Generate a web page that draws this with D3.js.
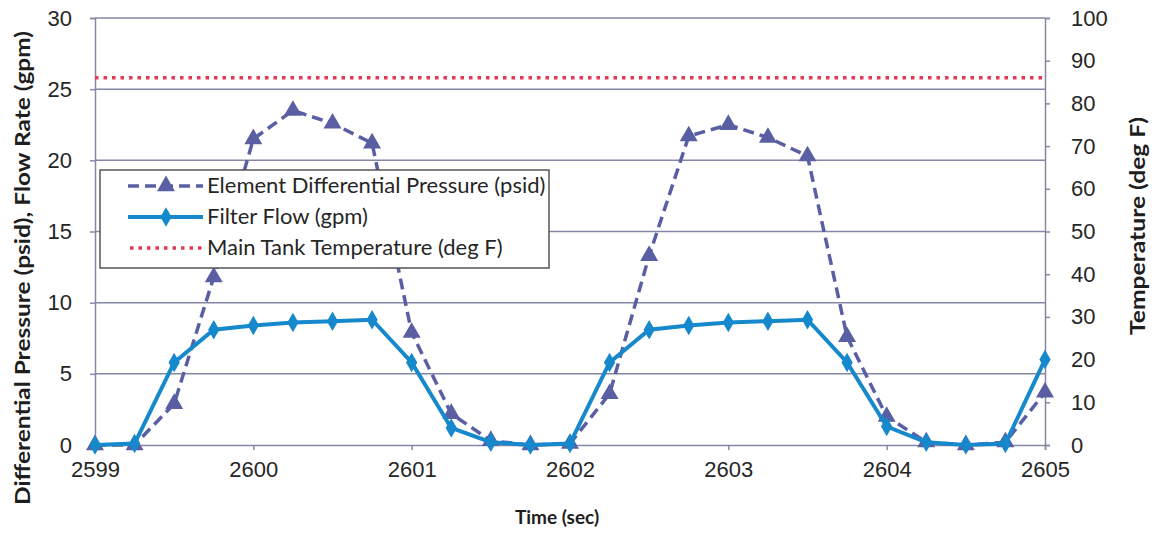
<!DOCTYPE html>
<html>
<head>
<meta charset="utf-8">
<script src="https://cdn.jsdelivr.net/npm/d3@7"></script>
<style>
  body { margin: 0; background: #fff; }
  svg { font-family: Lato, "Open Sans", sans-serif; }
</style>
</head>
<body>
<svg width="1155" height="534"></svg>
<script>
// time stamps every 0.25 s
const times = [2599, 2599.25, 2599.5, 2599.75, 2600, 2600.25, 2600.5, 2600.75,
  2601, 2601.25, 2601.5, 2601.75, 2602, 2602.25, 2602.5, 2602.75,
  2603, 2603.25, 2603.5, 2603.75, 2604, 2604.25, 2604.5, 2604.75, 2605];
const pressure = [0, 0, 2.9, 11.8, 21.5, 23.5, 22.6, 21.2,
  7.9, 2.2, 0.3, 0, 0.1, 3.6, 13.3, 21.7,
  22.5, 21.6, 20.3, 7.6, 2.0, 0.2, 0, 0.2, 3.7];
const flow = [0, 0.1, 5.8, 8.1, 8.4, 8.6, 8.7, 8.8,
  5.8, 1.2, 0.2, 0, 0.1, 5.8, 8.1, 8.4,
  8.6, 8.7, 8.8, 5.8, 1.3, 0.2, 0, 0.1, 6.0];
const tankTemp = [86, 86];
const xTicks = [2599, 2600, 2601, 2602, 2603, 2604, 2605];
const leftTicks = [0, 5, 10, 15, 20, 25, 30];
const rightTicks = [0, 10, 20, 30, 40, 50, 60, 70, 80, 90, 100];
const legendNames = ["Element Differential Pressure (psid)", "Filter Flow (gpm)", "Main Tank Temperature (deg F)"];

const pressColor = "#5a5fa3", flowColor = "#1689cc", tempColor = "#e23a55", gridColor = "#8587a6";
const textColor = "#262626";

const margin = {top: 18, right: 110, bottom: 89, left: 95};
const svg = d3.select("svg");
const W = 1155 - margin.left - margin.right, H = 534 - margin.top - margin.bottom;
const g = svg.append("g").attr("transform", `translate(${margin.left},${margin.top})`);

const x = d3.scaleLinear().domain([2599, 2605]).range([0, W]);
const y = d3.scaleLinear().domain([0, 30]).range([H, 0]);
const y2 = d3.scaleLinear().domain([0, 100]).range([H, 0]);

// gridlines
g.selectAll(".grid").data(leftTicks.filter(d => d > 0)).enter().append("line")
  .attr("x1", 0).attr("x2", W)
  .attr("y1", d => y(d)).attr("y2", d => y(d))
  .attr("stroke", gridColor).attr("stroke-width", 1.5);

// axes
const xAxis = g.append("g").attr("transform", `translate(0,${H})`)
  .call(d3.axisBottom(x).tickValues(xTicks).tickFormat(d3.format("d")).tickSize(5).tickPadding(11));
const yAxis = g.append("g").call(d3.axisLeft(y).tickValues(leftTicks).tickSize(5).tickPadding(18));
const yAxis2 = g.append("g").attr("transform", `translate(${W},0)`)
  .call(d3.axisRight(y2).tickValues(rightTicks).tickSize(5).tickPadding(21));
[xAxis, yAxis, yAxis2].forEach(a => {
  a.selectAll("path, line").attr("stroke", gridColor).attr("stroke-width", 1.5);
  a.selectAll("text").attr("font-size", "22px").attr("fill", textColor);
});

// temperature
g.append("path").datum(tankTemp)
  .attr("d", d3.line().x((d, i) => x(i === 0 ? 2599 : 2605)).y(d => y2(d)))
  .attr("fill", "none").attr("stroke", tempColor).attr("stroke-width", 3.5)
  .attr("stroke-dasharray", "3.5,5");

// pressure
const line = d3.line().x((d, i) => x(times[i])).y(d => y(d));
g.append("path").datum(pressure).attr("d", line)
  .attr("fill", "none").attr("stroke", pressColor).attr("stroke-width", 3.5)
  .attr("stroke-dasharray", "11,6");
const tri = d3.symbol().type(d3.symbolTriangle).size(140);
g.selectAll(".tri").data(pressure).enter().append("path")
  .attr("d", tri).attr("fill", pressColor)
  .attr("transform", (d, i) => `translate(${x(times[i])},${y(d)})`);

// flow
g.append("path").datum(flow).attr("d", line)
  .attr("fill", "none").attr("stroke", flowColor).attr("stroke-width", 4);
const dia = d3.symbol().type(d3.symbolDiamond).size(110);
g.selectAll(".dia").data(flow).enter().append("path")
  .attr("d", dia).attr("fill", flowColor)
  .attr("transform", (d, i) => `translate(${x(times[i])},${y(d)})`);

// legend
const lg = svg.append("g").attr("transform", "translate(100,170)");
lg.append("rect").attr("width", 449).attr("height", 98)
  .attr("fill", "#fff").attr("stroke", "#555").attr("stroke-width", 1.5);
legendNames.forEach((name, i) => {
  const ly = 16 + i * 31;
  const row = lg.append("g").attr("transform", `translate(0,${ly})`);
  if (i === 0) {
    row.append("line").attr("x1", 28).attr("x2", 103).attr("stroke", pressColor)
      .attr("stroke-width", 3.5).attr("stroke-dasharray", "11,6");
    row.append("path").attr("d", tri).attr("fill", pressColor).attr("transform", "translate(66,0)");
  } else if (i === 1) {
    row.append("line").attr("x1", 28).attr("x2", 103).attr("stroke", flowColor).attr("stroke-width", 4);
    row.append("path").attr("d", dia).attr("fill", flowColor).attr("transform", "translate(66,0)");
  } else {
    row.append("line").attr("x1", 30).attr("x2", 103).attr("stroke", tempColor)
      .attr("stroke-width", 3.5).attr("stroke-dasharray", "3.5,5");
  }
  row.append("text").attr("x", 107).attr("y", 7).attr("font-size", "22px")
    .attr("fill", textColor).text(name);
});

// axis titles
svg.append("text").attr("x", 557).attr("y", 524).attr("text-anchor", "middle")
  .attr("font-size", "19px").attr("font-weight", "bold").attr("fill", "#1e1e1e").text("Time (sec)");
svg.append("text").attr("transform", "translate(30,268) rotate(-90)").attr("text-anchor", "middle")
  .attr("font-size", "21px").attr("font-weight", "bold").attr("fill", "#1e1e1e")
  .attr("textLength", 474).attr("lengthAdjust", "spacingAndGlyphs")
  .text("Differential Pressure (psid), Flow Rate (gpm)");
svg.append("text").attr("transform", "translate(1145,226) rotate(-90)").attr("text-anchor", "middle")
  .attr("font-size", "21px").attr("font-weight", "bold").attr("fill", "#1e1e1e")
  .attr("textLength", 218).attr("lengthAdjust", "spacingAndGlyphs")
  .text("Temperature (deg F)");
</script>
</body>
</html>
